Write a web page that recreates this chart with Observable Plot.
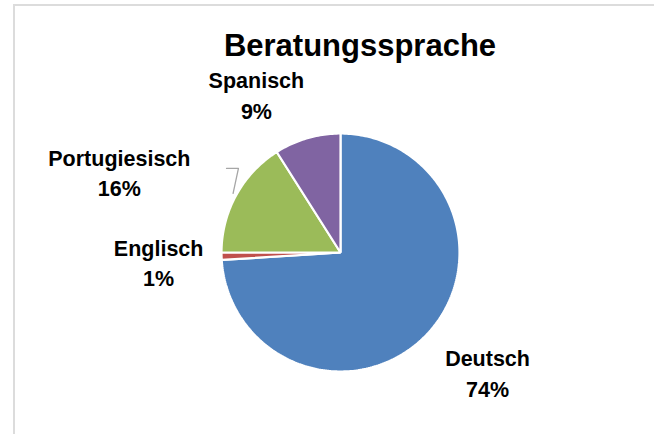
<!DOCTYPE html>
<html>
<head>
<meta charset="utf-8">
<script src="https://cdn.jsdelivr.net/npm/d3@7"></script>
<script src="https://cdn.jsdelivr.net/npm/@observablehq/plot@0.6"></script>
<style>
  html, body { margin: 0; padding: 0; background: #fff; }
  #frame { position: relative; width: 654px; height: 434px; overflow: hidden; background: #fff;
           font-family: "Liberation Sans", Arial, sans-serif; }
  #border { position: absolute; left: 13px; top: 4px; width: 700px; height: 500px;
            border-left: 2px solid #dcdcdc; border-top: 2px solid #dcdcdc; box-sizing: border-box; }
  #title { position: relative; height: 70px; }
  #title span { position: absolute; left: 200px; width: 320px; top: 30px; text-align: center;
                font-size: 31px; line-height: 31px; font-weight: bold; color: #000; }
  #chart svg { display: block; }
</style>
</head>
<body>
<div id="frame">
  <div id="border"></div>
  <div id="title"><span>Beratungssprache</span></div>
  <div id="chart"></div>
</div>
<script>
// ---- data ----
const categories = ["Deutsch", "Englisch", "Portugiesisch", "Spanisch"];
const values = [74, 1, 16, 9];
const percentLabels = ["74%", "1%", "16%", "9%"];

// ---- style / layout ----
const colors = ["#4F81BD", "#C0504D", "#9BBB59", "#8064A2"];
const labelRadius = [1.59, 1.53, 1.98, 1.51];   // in pie radii
const labelShiftDeg = [-4.2, -1.0, -8.6, -11.7]; // angular nudge of label placement
const leaderSlice = "Portugiesisch";

const pie = d3.pie().sort(null).value(d => d)(values);

// slice outlines in unit coordinates (y downwards)
const slicePoints = [];
pie.forEach((p, i) => {
  const cat = categories[i];
  slicePoints.push({cat, x: 0, y: 0});
  const steps = Math.max(2, Math.ceil((p.endAngle - p.startAngle) / (Math.PI / 180)));
  for (let k = 0; k <= steps; k++) {
    const a = p.startAngle + (p.endAngle - p.startAngle) * k / steps;
    slicePoints.push({cat, x: Math.sin(a), y: -Math.cos(a)});
  }
});

// labels
const labels = pie.map((p, i) => {
  const a = (p.startAngle + p.endAngle) / 2 + labelShiftDeg[i] * Math.PI / 180;
  return {cat: categories[i], text: categories[i] + "\n" + percentLabels[i],
          x: labelRadius[i] * Math.sin(a), y: -labelRadius[i] * Math.cos(a)};
});

// leader line for the Portugiesisch label
const li = categories.indexOf(leaderSlice);
const lp = pie[li];
const mid = (lp.startAngle + lp.endAngle) / 2;
const endPt = {x: 1.03 * Math.sin(mid), y: -1.03 * Math.cos(mid)};
const elbow = {x: endPt.x + 0.045, y: endPt.y - 0.21};
const leader = [{x: elbow.x - 0.1, y: elbow.y}, elbow, endPt];

const chart = Plot.plot({
  width: 654,
  height: 364,
  margin: 0,
  x: {domain: [-1, 1], range: [221, 459], axis: null},
  y: {domain: [-1, 1], range: [63, 301], axis: null},
  color: {domain: categories, range: colors},
  style: {background: "transparent", fontFamily: "'Liberation Sans', Arial, sans-serif", overflow: "visible"},
  marks: [
    Plot.line(slicePoints, {x: "x", y: "y", z: "cat", fill: "cat", stroke: "white",
                            strokeWidth: 2.2, strokeLinejoin: "miter", curve: "linear-closed"}),
    Plot.line(leader, {x: "x", y: "y", stroke: "#a6a6a6", strokeWidth: 1.3}),
    Plot.text(labels, {x: "x", y: "y", text: "text", fontSize: 21.5, fontWeight: "bold",
                       fill: "#000", lineHeight: 1.42, lineAnchor: "middle", textAnchor: "middle"})
  ]
});
document.getElementById("chart").appendChild(chart);
</script>
</body>
</html>
